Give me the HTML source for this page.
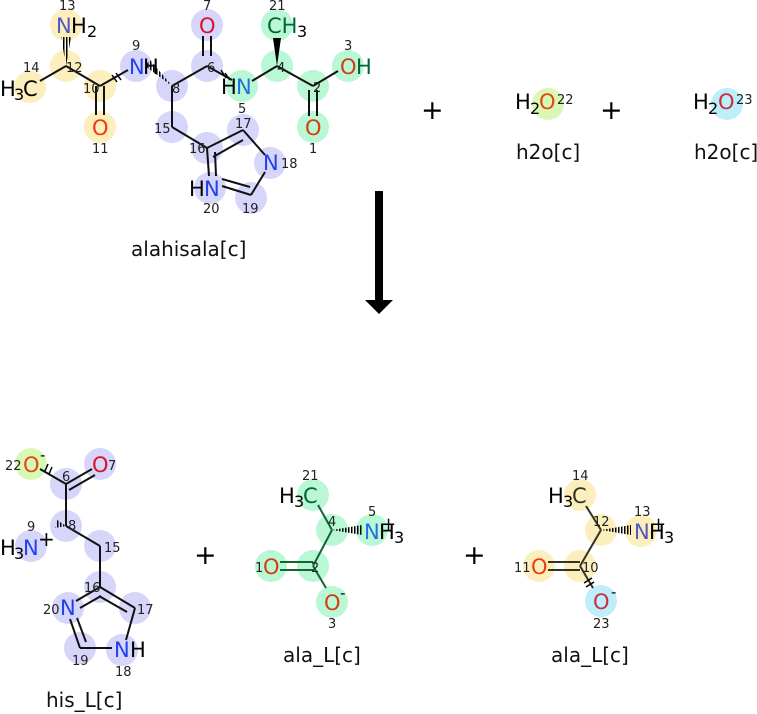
<!DOCTYPE html>
<html><head><meta charset="utf-8"><style>
html,body{margin:0;padding:0;background:#fff;}
svg{display:block;font-family:"DejaVu Sans","Liberation Sans",sans-serif;}
.n{font-size:13px;fill:#222;}
.a{font-size:21px;}
.l{font-size:20px;fill:#111;}
</style></head><body>
<svg width="757" height="714" viewBox="0 0 757 714" xmlns="http://www.w3.org/2000/svg">
<defs>
<pattern id="h" width="3" height="3" patternUnits="userSpaceOnUse"><rect width="1.5" height="3" fill="#000"/></pattern>
</defs>
<!-- ===== alahisala ===== -->
<g fill="#fcefbd">
<circle cx="66" cy="25" r="16"/><circle cx="66" cy="66" r="16"/><circle cx="30" cy="87" r="16"/><circle cx="100" cy="86" r="16"/><circle cx="100" cy="127" r="16"/>
</g>
<g fill="#d6d6fb">
<circle cx="136" cy="66" r="16"/><circle cx="172" cy="86" r="16"/><circle cx="207" cy="66" r="16"/><circle cx="207" cy="25" r="16"/><circle cx="172" cy="127" r="16"/><circle cx="207" cy="148" r="16"/><circle cx="243" cy="130" r="16"/><circle cx="270" cy="163" r="16"/><circle cx="210" cy="188" r="16"/><circle cx="251" cy="198" r="16"/>
</g>
<g fill="#b9f7d5">
<circle cx="242" cy="86" r="16"/><circle cx="277" cy="66" r="16"/><circle cx="277" cy="25" r="16"/><circle cx="313" cy="86" r="16"/><circle cx="348" cy="66" r="16"/><circle cx="313" cy="127" r="16"/>
</g>
<g stroke="#111" stroke-width="2" fill="none">
<line x1="40" y1="81" x2="66" y2="66"/><line x1="66" y1="66" x2="100" y2="86"/>
<line x1="96" y1="86" x2="96" y2="115"/><line x1="104" y1="86" x2="104" y2="115"/>
<line x1="100" y1="86" x2="128" y2="70"/>
<line x1="172" y1="86" x2="207" y2="66"/>
<line x1="203" y1="56" x2="203" y2="36"/><line x1="211" y1="56" x2="211" y2="36"/>
<line x1="207" y1="66" x2="232" y2="80"/>
<line x1="252" y1="81" x2="277" y2="66"/><line x1="277" y1="66" x2="313" y2="86"/>
<line x1="313" y1="86" x2="338" y2="71"/>
<line x1="309" y1="90" x2="309" y2="116"/><line x1="317" y1="90" x2="317" y2="116"/>
<line x1="172" y1="86" x2="172" y2="127"/><line x1="172" y1="127" x2="207" y2="148"/>
<line x1="207" y1="148" x2="243" y2="130"/><line x1="213" y1="157" x2="243" y2="140"/>
<line x1="243" y1="130" x2="265" y2="155"/>
<line x1="265" y1="172" x2="251" y2="195"/>
<line x1="251" y1="195" x2="222" y2="186"/><line x1="250" y1="187" x2="222" y2="179"/>
<line x1="207" y1="148" x2="209" y2="176"/><line x1="215" y1="152" x2="216" y2="176"/>
</g>
<polygon points="66,66 61,37 71,37" fill="url(#h)"/>
<polygon points="172,86 145,66 150,60" fill="url(#h)"/>
<polygon points="277,66 273,38 281,38" fill="#000"/>
<g stroke="#000" stroke-width="1.5"><line x1="112" y1="75" x2="117" y2="82"/><line x1="116" y1="73" x2="121" y2="80"/><line x1="221" y1="70" x2="226" y2="78"/><line x1="225" y1="73" x2="230" y2="80"/></g>
<text class="a" x="56" y="33" fill="#5058c0">N</text><text class="a" x="71" y="33">H</text><text x="87" y="37" font-size="16">2</text>
<text class="a" x="0" y="96">H</text><text x="14" y="100" font-size="16">3</text><text class="a" x="23" y="96">C</text>
<text class="a" x="92" y="135" fill="#ee3a10">O</text>
<text class="a" x="129" y="74" fill="#2040ee">N</text><text class="a" x="143" y="74">H</text>
<text class="a" x="199" y="33" fill="#dd1030">O</text>
<text class="a" x="221" y="94">H</text><text class="a" x="236" y="94" fill="#2070e0">N</text>
<text class="a" x="267" y="33" fill="#063">CH</text><text x="297" y="37" font-size="16">3</text>
<text class="a" x="340" y="74" fill="#d04010">O</text><text class="a" x="356" y="74" fill="#063">H</text>
<text class="a" x="305" y="135" fill="#d04010">O</text>
<text class="a" x="263" y="170" fill="#2040ee">N</text>
<text class="a" x="189" y="196">H</text><text class="a" x="204" y="196" fill="#2040ee">N</text>
<text class="n" x="59" y="10">13</text><text class="n" x="23" y="72">14</text><text class="n" x="66" y="72">12</text><text class="n" x="83" y="93">10</text><text class="n" x="92" y="153">11</text>
<text class="n" x="132" y="50">9</text><text class="n" x="172" y="93">8</text><text class="n" x="207" y="72">6</text><text class="n" x="203" y="10">7</text><text class="n" x="238" y="113">5</text>
<text class="n" x="277" y="72">4</text><text class="n" x="269" y="10">21</text><text class="n" x="313" y="92">2</text><text class="n" x="344" y="50">3</text><text class="n" x="309" y="153">1</text>
<text class="n" x="154" y="133">15</text><text class="n" x="189" y="153">16</text><text class="n" x="235" y="128">17</text><text class="n" x="281" y="168">18</text><text class="n" x="203" y="213">20</text><text class="n" x="242" y="213">19</text>
<text class="l" x="131" y="256">alahisala[c]</text>
<!-- plus + water -->
<text x="421" y="119" font-size="27">+</text><text x="600" y="119" font-size="27">+</text>
<circle cx="548" cy="104" r="16" fill="#d9f8b5"/><circle cx="727" cy="104" r="16" fill="#bdeefa"/>
<text class="a" x="515" y="109">H</text><text x="530" y="114" font-size="16">2</text><text class="a" x="539" y="109" fill="#e04a10">O</text><text class="n" x="557" y="104">22</text>
<text class="a" x="693" y="109">H</text><text x="708" y="114" font-size="16">2</text><text class="a" x="718" y="109" fill="#c83040">O</text><text class="n" x="736" y="104">23</text>
<text class="l" x="516" y="159">h2o[c]</text><text class="l" x="694" y="159">h2o[c]</text>
<!-- arrow -->
<rect x="375" y="191" width="8" height="110" fill="#000"/>
<polygon points="365,300 393,300 379,314" fill="#000"/>
<!-- ===== his_L ===== -->
<circle cx="31" cy="464" r="16" fill="#d9f8b5"/>
<g fill="#d6d6fb">
<circle cx="100" cy="464" r="16"/><circle cx="66" cy="484" r="16"/><circle cx="66" cy="526" r="16"/><circle cx="31" cy="546" r="16"/><circle cx="100" cy="546" r="16"/><circle cx="100" cy="587" r="16"/><circle cx="68" cy="608" r="16"/><circle cx="135" cy="608" r="16"/><circle cx="80" cy="648" r="16"/><circle cx="122" cy="650" r="16"/>
</g>
<g stroke="#111" stroke-width="2" fill="none">
<line x1="40" y1="469" x2="66" y2="484"/>
<line x1="66" y1="484" x2="92" y2="469"/><line x1="69" y1="490" x2="95" y2="475"/>
<line x1="66" y1="484" x2="66" y2="526"/><line x1="66" y1="526" x2="100" y2="546"/>
<line x1="100" y1="546" x2="100" y2="587"/>
<line x1="100" y1="587" x2="76" y2="601"/><line x1="101" y1="596" x2="80" y2="608"/>
<line x1="100" y1="587" x2="135" y2="608"/><line x1="99" y1="596" x2="127" y2="612"/>
<line x1="135" y1="608" x2="126" y2="640"/>
<line x1="112" y1="648" x2="80" y2="648"/>
<line x1="80" y1="648" x2="70" y2="619"/><line x1="86" y1="642" x2="77" y2="618"/>
</g>
<polygon points="66,526 55,528 57,520" fill="url(#h)"/>
<g stroke="#000" stroke-width="1.5"><line x1="45" y1="471" x2="48" y2="464"/><line x1="49" y1="474" x2="52" y2="467"/></g>
<text class="a" x="23" y="472" fill="#e04a10">O</text><text x="40" y="460" font-size="15">-</text><text class="n" x="5" y="470">22</text>
<text class="a" x="92" y="472" fill="#dd1030">O</text><text class="n" x="108" y="470">7</text>
<text class="n" x="62" y="481">6</text><text class="n" x="68" y="530">8</text><text class="n" x="27" y="531">9</text>
<text class="a" x="0" y="555">H</text><text x="14" y="559" font-size="16">3</text><text class="a" x="23" y="555" fill="#2040ee">N</text><text x="38" y="546" font-size="20">+</text>
<text class="n" x="104" y="552">15</text><text class="n" x="84" y="592">16</text><text class="n" x="43" y="614">20</text><text class="a" x="60" y="615" fill="#2040ee">N</text>
<text class="n" x="137" y="614">17</text><text class="n" x="72" y="665">19</text><text class="a" x="114" y="657" fill="#2040ee">N</text><text class="a" x="130" y="657">H</text><text class="n" x="115" y="676">18</text>
<text class="l" x="46" y="707">his_L[c]</text>
<text x="194" y="564" font-size="27">+</text>
<!-- ===== ala_L mid ===== -->
<g fill="#b9f7d5">
<circle cx="313" cy="495" r="16"/><circle cx="332" cy="530" r="16"/><circle cx="372" cy="530" r="16"/><circle cx="313" cy="566" r="16"/><circle cx="271" cy="566" r="16"/><circle cx="332" cy="602" r="16"/>
</g>
<g stroke="#163" stroke-width="2" fill="none">
<line x1="318" y1="505" x2="332" y2="530"/><line x1="332" y1="530" x2="313" y2="566"/>
<line x1="280" y1="562" x2="313" y2="562"/><line x1="280" y1="570" x2="313" y2="570"/>
<line x1="313" y1="566" x2="326" y2="588"/>
</g>
<polygon points="332,530 362,525 362,535" fill="url(#h)"/>
<text class="a" x="279" y="503">H</text><text x="294" y="507" font-size="16">3</text><text class="a" x="303" y="503" fill="#063">C</text><text class="n" x="302" y="480">21</text>
<text class="n" x="328" y="526">4</text><text class="n" x="368" y="516">5</text><text class="a" x="364" y="539" fill="#2070e0">N</text><text class="a" x="379" y="539">H</text><text x="394" y="543" font-size="16">3</text><text x="381" y="530" font-size="18">+</text>
<text class="n" x="255" y="572">1</text><text class="a" x="263" y="574" fill="#d04010">O</text><text class="n" x="311" y="572">2</text>
<text class="a" x="324" y="610" fill="#d04010">O</text><text x="340" y="598" font-size="15">-</text><text class="n" x="328" y="628">3</text>
<text class="l" x="283" y="662">ala_L[c]</text>
<text x="463" y="564" font-size="27">+</text>
<!-- ===== ala_L right ===== -->
<g fill="#fcefbd">
<circle cx="580" cy="495" r="16"/><circle cx="601" cy="530" r="16"/><circle cx="641" cy="531" r="16"/><circle cx="580" cy="566" r="16"/><circle cx="539" cy="566" r="16"/>
</g>
<circle cx="601" cy="601" r="16" fill="#bdeefa"/>
<g stroke="#332" stroke-width="2" fill="none">
<line x1="586" y1="506" x2="601" y2="530"/><line x1="601" y1="530" x2="580" y2="566"/>
<line x1="548" y1="562" x2="580" y2="562"/><line x1="548" y1="570" x2="580" y2="570"/>
<line x1="580" y1="566" x2="593" y2="588"/>
</g>
<g stroke="#000" stroke-width="1.5"><line x1="584" y1="583" x2="592" y2="578"/><line x1="586" y1="587" x2="594" y2="582"/></g>
<polygon points="601,530 631,525 631,535" fill="url(#h)"/>
<text class="a" x="548" y="503">H</text><text x="563" y="507" font-size="16">3</text><text class="a" x="572" y="503" fill="#332">C</text><text class="n" x="572" y="480">14</text>
<text class="n" x="593" y="526">12</text><text class="n" x="634" y="516">13</text><text class="a" x="634" y="539" fill="#5058c0">N</text><text class="a" x="649" y="539">H</text><text x="664" y="543" font-size="16">3</text><text x="651" y="530" font-size="18">+</text>
<text class="n" x="514" y="572">11</text><text class="a" x="531" y="574" fill="#ee3a10">O</text><text class="n" x="582" y="572">10</text>
<text class="a" x="593" y="609" fill="#c83040">O</text><text x="611" y="597" font-size="15">-</text><text class="n" x="593" y="628">23</text>
<text class="l" x="551" y="662">ala_L[c]</text>
</svg>
</body></html>
